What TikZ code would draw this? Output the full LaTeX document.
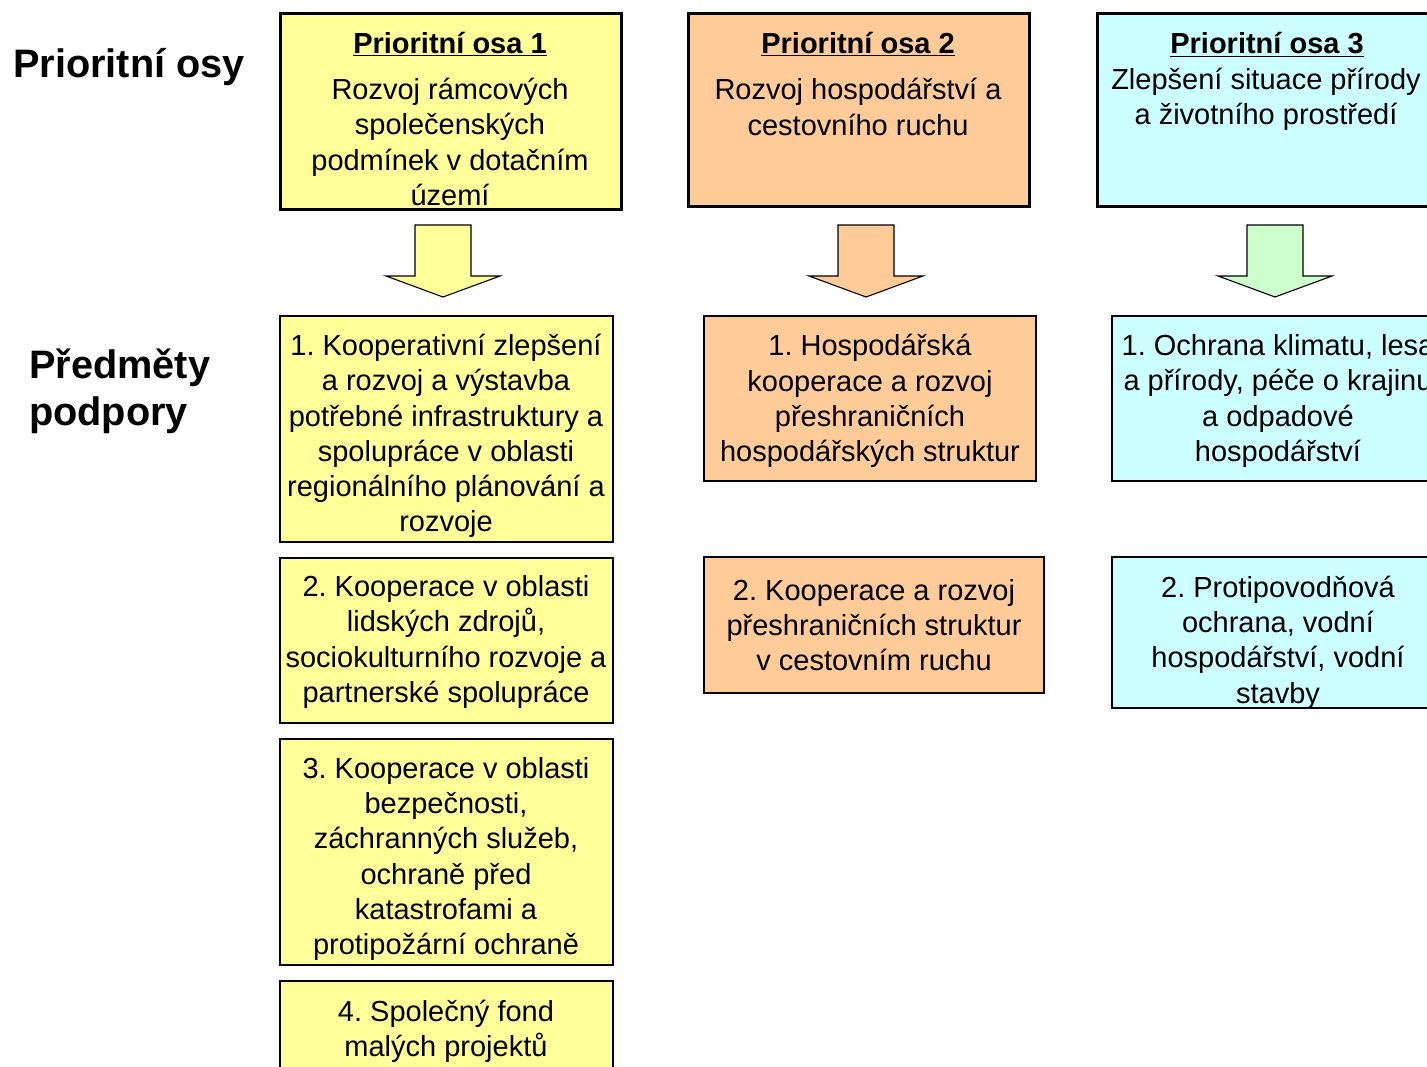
\documentclass[tikz,border=0pt]{standalone}
\usepackage{fontspec}
\setmainfont{Liberation Sans}
\frenchspacing
\definecolor{ylw}{HTML}{FFFF99}
\definecolor{peach}{HTML}{FFCC99}
\definecolor{cyanl}{HTML}{CCFFFF}
\definecolor{greenl}{HTML}{CCFFCC}
\begin{document}
\frenchspacing
\begin{tikzpicture}[x=1pt,y=-1pt,
  txt/.style={font=\fontsize{29}{35.3}\selectfont\frenchspacing, align=center, inner sep=0pt},
  ttl/.style={font=\bfseries\fontsize{29}{35.3}\selectfont, inner sep=0pt},
  headbox/.style={draw=black, line width=3pt, anchor=north west, inner sep=0pt, outer sep=0pt},
  subbox/.style={draw=black, line width=1.4pt, anchor=north west, inner sep=0pt, outer sep=0pt},
  bigtitle/.style={font=\bfseries\fontsize{39.7}{47}\selectfont, align=left, inner sep=0pt, anchor=west},
  blockarrow/.style={draw=black, line width=1.1pt, line join=miter}]
\useasboundingbox (0,0) rectangle (1427,1066);
\clip (0,0) rectangle (1427,1066);
\fill[white] (0,0) rectangle (1427,1066);

% row titles
\node[bigtitle] (tosy) at (13,67) {Prioritní osy};
\node[bigtitle] (tpred) at (29,391.5) {Předměty\\podpory};

% priority axis boxes
\node[headbox, fill=ylw, minimum width=341pt, minimum height=196pt] (po1) at (280,13) {};
\node[headbox, fill=peach, minimum width=341pt, minimum height=193pt] (po2) at (688,13) {};
\node[headbox, fill=cyanl, minimum width=345pt, minimum height=193pt] (po3) at (1097,13) {};

\node[ttl] (po1t) at (450,44.5) {\underline{Prioritní osa 1}};
\node[txt] (po1b) at (450,142) {Rozvoj rámcových\\společenských\\podmínek v dotačním\\území};
\node[ttl] (po2t) at (858,44.5) {\underline{Prioritní osa 2}};
\node[txt] (po2b) at (858,107) {Rozvoj hospodářství a\\cestovního ruchu};
\node[ttl] (po3t) at (1267,44.5) {\underline{Prioritní osa 3}};
\node[txt] (po3b) at (1266,99) {Zlepšení situace přírody\\a životního prostředí};

% block arrows
\coordinate (ar1) at (443,225);
\coordinate (ar2) at (866,225);
\coordinate (ar3) at (1275,225);
\foreach \c/\col in {ar1/ylw, ar2/peach, ar3/greenl}{
  \draw[blockarrow, fill=\col, shift={(\c)}] (-28,0) -- (28,0) -- (28,51) -- (57,51) -- (0,72) -- (-57,51) -- (-28,51) -- cycle;
}

% column 1 sub boxes
\node[subbox, fill=ylw, minimum width=333pt, minimum height=226pt] (c1a) at (280,316) {};
\node[subbox, fill=ylw, minimum width=333pt, minimum height=165pt] (c1b) at (280,558) {};
\node[subbox, fill=ylw, minimum width=333pt, minimum height=226pt] (c1c) at (280,739) {};
\node[subbox, fill=ylw, minimum width=333pt, minimum height=120pt] (c1d) at (280,981) {};

\node[txt] (c1at) at (446,436) {1. Kooperativní zlepšení\\a rozvoj a výstavba\\potřebné infrastruktury a\\spolupráce v oblasti\\regionálního plánování a\\rozvoje};
\node[txt] (c1bt) at (446,642) {2. Kooperace v oblasti\\lidských zdrojů,\\sociokulturního rozvoje a\\partnerské spolupráce};
\node[txt] (c1ct) at (446,859) {3. Kooperace v oblasti\\bezpečnosti,\\záchranných služeb,\\ochraně před\\katastrofami a\\protipožární ochraně};
\node[txt] (c1dt) at (446,1031) {4. Společný fond\\malých projektů};

% column 2 sub boxes
\node[subbox, fill=peach, minimum width=332pt, minimum height=165pt] (c2a) at (704,316) {};
\node[subbox, fill=peach, minimum width=340pt, minimum height=136pt] (c2b) at (704,557) {};
\node[txt] (c2at) at (870,401) {1. Hospodářská\\kooperace a rozvoj\\přeshraničních\\hospodářských struktur};
\node[txt] (c2bt) at (874,625) {2. Kooperace a rozvoj\\přeshraničních struktur\\v cestovním ruchu};

% column 3 sub boxes
\node[subbox, fill=cyanl, minimum width=332pt, minimum height=165pt] (c3a) at (1112,316) {};
\node[subbox, fill=cyanl, minimum width=332pt, minimum height=151pt] (c3b) at (1112,557) {};
\node[txt] (c3at) at (1278,401) {1. Ochrana klimatu, lesa\\a přírody, péče o krajinu\\a odpadové\\hospodářství};
\node[txt] (c3bt) at (1278,642.5) {2. Protipovodňová\\ochrana, vodní\\hospodářství, vodní\\stavby};
\end{tikzpicture}
\end{document}
